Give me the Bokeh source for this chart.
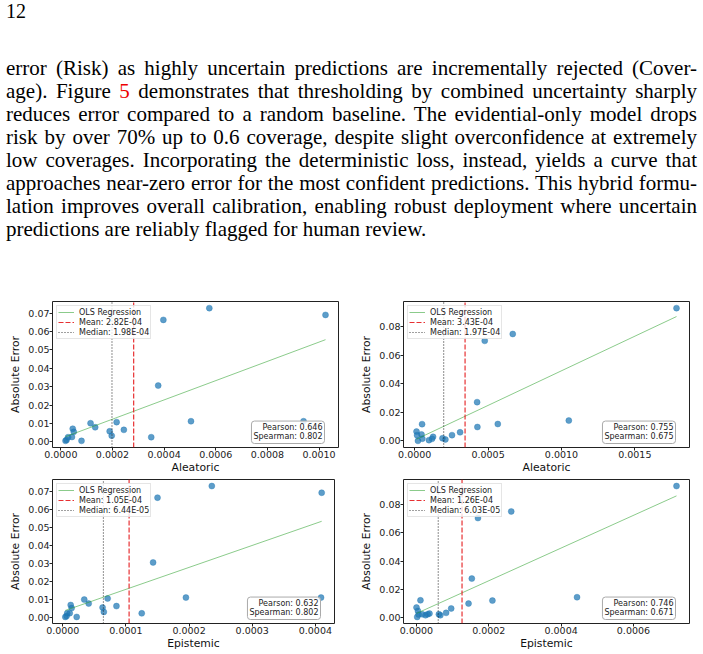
import numpy as np
from bokeh.plotting import figure
from bokeh.models import Div, Legend, LegendItem, Label, Range1d, FixedTicker, PrintfTickFormatter
from bokeh.layouts import column, row
from bokeh.embed import file_html
from bokeh.resources import INLINE

# ---------------- text of the page ----------------
page_number = "12"
paragraph_lines = [
    "error (Risk) as highly uncertain predictions are incrementally rejected (Cover-",
    "age). Figure <span style='color:#ee0000'>5</span> demonstrates that thresholding by combined uncertainty sharply",
    "reduces error compared to a random baseline. The evidential-only model drops",
    "risk by over 70% up to 0.6 coverage, despite slight overconfidence at extremely",
    "low coverages. Incorporating the deterministic loss, instead, yields a curve that",
    "approaches near-zero error for the most confident predictions. This hybrid formu-",
    "lation improves overall calibration, enabling robust deployment where uncertain",
    "predictions are reliably flagged for human review.",
]

# ---------------- data ----------------
# model A (left column): absolute error shared by aleatoric / epistemic panels
error_a = [0.0005, 0.0010, 0.0025, 0.0026, 0.0071, 0.0054, 0.0005, 0.0101, 0.0079, 0.0057,
           0.0033, 0.0107, 0.0065, 0.0025, 0.0306, 0.0664, 0.0112, 0.0728, 0.0112, 0.0691]
aleatoric_a = [1.8e-5, 2.2e-5, 2.8e-5, 4.3e-5, 4.6e-5, 5.0e-5, 8.0e-5, 1.15e-4, 1.33e-4, 1.89e-4,
               1.97e-4, 2.16e-4, 2.44e-4, 3.50e-4, 3.77e-4, 3.97e-4, 5.04e-4, 5.75e-4, 9.40e-4, 1.025e-3]
epistemic_a = [0.4e-5, 0.6e-5, 0.7e-5, 1.1e-5, 1.25e-5, 1.4e-5, 2.2e-5, 3.4e-5, 4.1e-5, 6.3e-5,
               6.5e-5, 7.1e-5, 8.5e-5, 1.25e-4, 1.43e-4, 1.50e-4, 1.95e-4, 2.36e-4, 4.09e-4, 4.10e-4]

# model B (right column)
error_b_ale = [0.0065, 0.0040, 0.0000, 0.0045, 0.0117, 0.0015, 0.0005, 0.0014, 0.0028, 0.0018,
               0.0010, 0.0040, 0.0060, 0.0271, 0.0097, 0.0700, 0.0118, 0.0748, 0.0142, 0.0929]
aleatoric_b = [1.2e-5, 1.6e-5, 2.2e-5, 4.6e-5, 5.0e-5, 5.2e-5, 9.7e-5, 1.18e-4, 1.25e-4, 1.89e-4,
               2.09e-4, 2.54e-4, 3.09e-4, 4.25e-4, 4.27e-4, 4.77e-4, 5.66e-4, 6.68e-4, 1.05e-3, 1.784e-3]
error_b_epi = [0.0071, 0.0004, 0.0047, 0.0021, 0.0122, 0.0023, 0.0016, 0.0023, 0.0028, 0.0023,
               0.0016, 0.0033, 0.0064, 0.0099, 0.0276, 0.0705, 0.0120, 0.0752, 0.0144, 0.0932]
epistemic_b = [0.1e-6, 2e-6, 4e-6, 6e-6, 1.1e-5, 1.6e-5, 2.5e-5, 3.1e-5, 3.6e-5, 6.2e-5,
               6.6e-5, 8.2e-5, 9.6e-5, 1.44e-4, 1.53e-4, 1.70e-4, 2.10e-4, 2.62e-4, 4.44e-4, 7.19e-4]

mean_values = [2.82e-4, 3.43e-4, 1.05e-4, 1.26e-4]
median_values = [1.98e-4, 1.97e-4, 6.44e-5, 6.03e-5]
mean_labels = ["Mean: 2.82E-04", "Mean: 3.43E-04", "Mean: 1.05E-04", "Mean: 1.26E-04"]
median_labels = ["Median: 1.98E-04", "Median: 1.97E-04", "Median: 6.44E-05", "Median: 6.03E-05"]
pearson_values = ["0.646", "0.755", "0.632", "0.746"]
spearman_values = ["0.802", "0.675", "0.802", "0.671"]
x_labels = ["Aleatoric", "Aleatoric", "Epistemic", "Epistemic"]
y_label = "Absolute Error"

xticks_ale_a = [0.0, 0.0002, 0.0004, 0.0006, 0.0008, 0.0010]
xticks_ale_b = [0.0, 0.0005, 0.0010, 0.0015]
xticks_epi_a = [0.0, 0.0001, 0.0002, 0.0003, 0.0004]
xticks_epi_b = [0.0, 0.0002, 0.0004, 0.0006]
yticks_a = [0.00, 0.01, 0.02, 0.03, 0.04, 0.05, 0.06, 0.07]
yticks_b = [0.00, 0.02, 0.04, 0.06, 0.08]

FONT = "DejaVu Sans"


def make_panel(i, xs, ys, xticks, yticks, width, height, borders):
    x = np.asarray(xs, dtype=float)
    y = np.asarray(ys, dtype=float)
    xpad = 0.05 * (x.max() - x.min())
    ypad = 0.05 * (y.max() - y.min())
    xr = Range1d(x.min() - xpad, x.max() + xpad)
    yr = Range1d(y.min() - ypad, y.max() + ypad)
    left, right, top, bottom = borders
    p = figure(width=width, height=height, x_range=xr, y_range=yr,
               output_backend="svg", toolbar_location=None,
               min_border_left=left, min_border_right=right,
               min_border_top=top, min_border_bottom=bottom)
    p.grid.visible = False
    p.outline_line_color = "#222222"
    p.outline_line_width = 1
    p.background_fill_color = "white"
    p.border_fill_color = "white"

    for ax in (p.xaxis[0], p.yaxis[0]):
        ax.axis_line_color = None
        ax.major_tick_line_color = "#222222"
        ax.major_tick_out = 3
        ax.major_tick_in = 0
        ax.minor_tick_line_color = None
        ax.major_label_text_font = FONT
        ax.major_label_text_font_size = "9.5px"
        ax.major_label_text_color = "#222222"
        ax.major_label_standoff = 0
        ax.axis_label_text_font = FONT
        ax.axis_label_text_font_size = "10.8px"
        ax.axis_label_text_font_style = "normal"
        ax.axis_label_text_color = "#111111"
    p.xaxis[0].axis_label = x_labels[i]
    p.yaxis[0].axis_label = y_label
    p.xaxis[0].axis_label_standoff = 0
    p.yaxis[0].axis_label_standoff = 3
    p.xaxis[0].ticker = FixedTicker(ticks=xticks)
    p.yaxis[0].ticker = FixedTicker(ticks=yticks)
    p.xaxis[0].formatter = PrintfTickFormatter(format="%.4f")
    p.yaxis[0].formatter = PrintfTickFormatter(format="%.2f")

    p.scatter(x, y, size=6, fill_color="#1f77b4", fill_alpha=0.72,
              line_color="#1f77b4", line_alpha=0.72, line_width=0.5)

    k, b = np.polyfit(x, y, 1)
    lx = np.array([x.min(), x.max()])
    r_ols = p.line(lx, k * lx + b, line_color="#2ca02c", line_alpha=0.55, line_width=1)
    r_mean = p.line([mean_values[i]] * 2, [yr.start, yr.end], line_color="#e41a1c",
                    line_dash="5 2", line_width=1.2, line_alpha=0.9)
    r_med = p.line([median_values[i]] * 2, [yr.start, yr.end], line_color="#222222",
                   line_dash="1 2", line_width=1.2, line_alpha=0.85)

    legend = Legend(items=[LegendItem(label="OLS Regression", renderers=[r_ols]),
                           LegendItem(label=mean_labels[i], renderers=[r_mean]),
                           LegendItem(label=median_labels[i], renderers=[r_med])],
                    location="top_left", margin=4, padding=1, spacing=0,
                    glyph_width=16, glyph_height=10, label_height=10, label_standoff=5,
                    label_text_font=FONT, label_text_font_size="8px",
                    label_text_color="#222222",
                    border_line_color="#cccccc", border_line_width=1,
                    background_fill_color="white", background_fill_alpha=0.8)
    p.add_layout(legend)

    stats = Label(x=xr.end, y=yr.start, x_offset=-14, y_offset=4,
                  text="Pearson: %s\nSpearman: %s" % (pearson_values[i], spearman_values[i]),
                  text_align="right", text_baseline="bottom",
                  text_font=FONT, text_font_size="8px", text_color="#222222",
                  text_line_height=1.05,
                  background_fill_color="white", background_fill_alpha=0.85,
                  border_line_color="#aaaaaa", border_line_width=1,
                  padding=2, border_radius=3)
    p.add_layout(stats)
    return p


p1 = make_panel(0, aleatoric_a, error_a, xticks_ale_a, yticks_a, 351, 191, (52, 13, 16, 27))
p2 = make_panel(1, aleatoric_b, error_b_ale, xticks_ale_b, yticks_b, 352, 191, (52, 14, 16, 27))
p3 = make_panel(2, epistemic_a, error_a, xticks_epi_a, yticks_a, 351, 178, (52, 17, 3, 31))
p4 = make_panel(3, epistemic_b, error_b_epi, xticks_epi_b, yticks_b, 352, 178, (52, 14, 3, 30))

# ---------------- text block ----------------
parts = ["<div style=\"position:relative;width:703px;height:285px;font-family:'Liberation Serif',serif;color:#000;\">",
         "<div style='position:absolute;left:6px;top:0px;font-size:20px;line-height:23px;'>%s</div>" % page_number]
for j, line in enumerate(paragraph_lines):
    last = j == len(paragraph_lines) - 1
    align = "left" if last else "justify"
    parts.append(
        "<div style='position:absolute;left:6px;top:%dpx;width:691px;font-size:21px;line-height:23px;"
        "white-space:nowrap;text-align:%s;text-align-last:%s;'>%s</div>" % (57 + 23 * j, align, align, line))
parts.append("</div>")
div = Div(text="".join(parts), width=703, height=285, margin=0)

layout = column(div, row(p1, p2, spacing=0), row(p3, p4, spacing=0), spacing=0)

open("out.html", "w").write(file_html(layout, INLINE))
